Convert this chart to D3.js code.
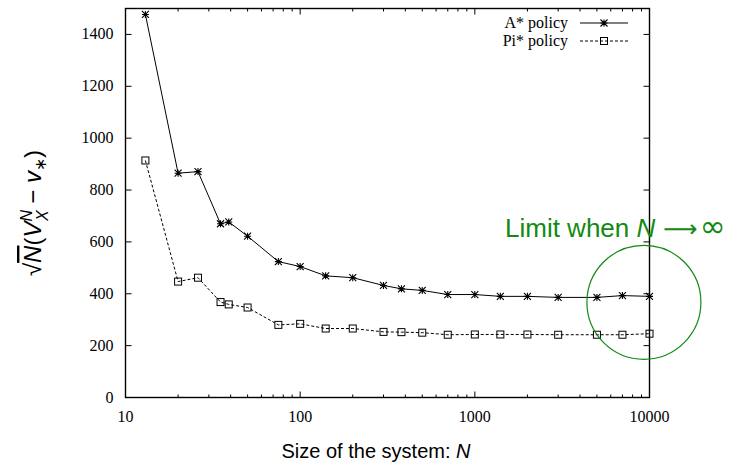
<!DOCTYPE html>
<html>
<head>
<meta charset="utf-8">
<script src="https://cdn.jsdelivr.net/npm/d3@7"></script>
<style>
  body { margin: 0; background: #fff; }
  svg { display: block; }
</style>
</head>
<body>
<svg id="chart" width="746" height="462"></svg>
<script>
const sizes = [13, 20, 26, 35, 39, 50, 75, 100, 140, 200, 300, 380, 500, 700, 1000, 1400, 2000, 3000, 5000, 7000, 10000];
const aStar = [1477, 865, 871, 670, 677, 622, 524, 505, 469, 462, 432, 419, 413, 397, 397, 390, 390, 386, 386, 393, 390];
const piStar = [914, 447, 462, 368, 359, 347, 280, 284, 266, 266, 253, 252, 250, 242, 243, 243, 243, 242, 242, 242, 246];
const yTicks = [0, 200, 400, 600, 800, 1000, 1200, 1400];
const xTicks = [10, 100, 1000, 10000];

const SERIF = "'Liberation Serif', 'Times New Roman', serif";
const SANS = "'Liberation Sans', Arial, sans-serif";

const svg = d3.select("#chart");
const plotL = 125.5, plotR = 649.5, plotT = 8.5, plotB = 397.5;

const x = d3.scaleLog().domain([10, 10000]).range([plotL, plotR]);
const y = d3.scaleLinear().domain([0, 1500]).range([plotB, plotT]);

// minor ticks of the log axis
const minor = [];
for (let d = 10; d < 10000; d *= 10) {
  for (let k = 2; k <= 9; k++) minor.push(d * k);
}

const g = svg.append("g");

// ticks (drawn inward, mirrored on top / right)
g.selectAll(".xmaj").data(xTicks).enter().append("line")
  .attr("x1", d => x(d)).attr("x2", d => x(d)).attr("y1", plotB).attr("y2", plotB - 6)
  .attr("stroke", "#000");
g.selectAll(".xmajt").data(xTicks).enter().append("line")
  .attr("x1", d => x(d)).attr("x2", d => x(d)).attr("y1", plotT).attr("y2", plotT + 6)
  .attr("stroke", "#000");
g.selectAll(".xmin").data(minor).enter().append("line")
  .attr("x1", d => x(d)).attr("x2", d => x(d)).attr("y1", plotB).attr("y2", plotB - 3)
  .attr("stroke", "#000");
g.selectAll(".xmint").data(minor).enter().append("line")
  .attr("x1", d => x(d)).attr("x2", d => x(d)).attr("y1", plotT).attr("y2", plotT + 3)
  .attr("stroke", "#000");
g.selectAll(".ymaj").data(yTicks).enter().append("line")
  .attr("x1", plotL).attr("x2", plotL + 6).attr("y1", d => y(d)).attr("y2", d => y(d))
  .attr("stroke", "#000");
g.selectAll(".ymajr").data(yTicks).enter().append("line")
  .attr("x1", plotR).attr("x2", plotR - 6).attr("y1", d => y(d)).attr("y2", d => y(d))
  .attr("stroke", "#000");

// frame
g.append("rect")
  .attr("x", plotL).attr("y", plotT).attr("width", plotR - plotL).attr("height", plotB - plotT)
  .attr("fill", "none").attr("stroke", "#000").attr("stroke-width", 1.4);

// tick labels
g.selectAll(".ylab").data(yTicks).enter().append("text")
  .attr("font-family", SERIF).attr("font-size", 16)
  .attr("x", plotL - 12).attr("y", d => y(d) + 5)
  .attr("text-anchor", "end")
  .text(d => d);
g.selectAll(".xlab").data(xTicks).enter().append("text")
  .attr("font-family", SERIF).attr("font-size", 16)
  .attr("x", d => x(d)).attr("y", plotB + 24)
  .attr("text-anchor", "middle")
  .text(d => d);

const aData = sizes.map((n, i) => [n, aStar[i]]);
const pData = sizes.map((n, i) => [n, piStar[i]]);
const line = d3.line().x(d => x(d[0])).y(d => y(d[1]));

g.append("path").datum(aData).attr("d", line)
  .attr("fill", "none").attr("stroke", "#000").attr("stroke-width", 1);
g.append("path").datum(pData).attr("d", line)
  .attr("fill", "none").attr("stroke", "#000").attr("stroke-width", 1).attr("stroke-dasharray", "3,2");

function star(sel, cx, cy) {
  const r = 3.5;
  sel.append("path")
    .attr("d", `M${cx - r},${cy}H${cx + r}M${cx},${cy - r}V${cy + r}` +
      `M${cx - r},${cy - r}L${cx + r},${cy + r}M${cx - r},${cy + r}L${cx + r},${cy - r}`)
    .attr("stroke", "#000").attr("stroke-width", 1.1).attr("fill", "none");
}
function square(sel, cx, cy) {
  sel.append("rect").attr("x", cx - 3.5).attr("y", cy - 3.5).attr("width", 7).attr("height", 7)
    .attr("fill", "none").attr("stroke", "#000").attr("stroke-width", 1);
}
aData.forEach(d => star(g, x(d[0]), y(d[1])));
pData.forEach(d => square(g, x(d[0]), y(d[1])));

// legend
g.append("text").attr("font-family", SERIF).attr("font-size", 16).attr("x", 568).attr("y", 28)
  .attr("text-anchor", "end").text("A* policy");
g.append("line").attr("x1", 580).attr("x2", 628).attr("y1", 23).attr("y2", 23)
  .attr("stroke", "#000");
star(g, 604, 23);
g.append("text").attr("font-family", SERIF).attr("font-size", 16).attr("x", 568).attr("y", 46)
  .attr("text-anchor", "end").text("Pi* policy");
g.append("line").attr("x1", 580).attr("x2", 628).attr("y1", 41).attr("y2", 41)
  .attr("stroke", "#000").attr("stroke-dasharray", "3,2");
square(g, 604, 41);

// x axis title
svg.append("text").attr("font-family", SANS)
  .attr("x", 376).attr("y", 458).attr("text-anchor", "middle")
  .attr("font-size", 20)
  .html('Size of the system:  <tspan font-style="italic">N</tspan>');

// y axis title: sqrt(N)(V_X^N - v_*)
const yt = svg.append("text").attr("font-family", SANS)
  .attr("transform", "translate(41,213) rotate(-90)")
  .attr("text-anchor", "middle").attr("font-size", 24);
yt.append("tspan").text("√");
yt.append("tspan").attr("font-style", "italic").attr("text-decoration", "overline").text("N");
yt.append("tspan").text("(");
yt.append("tspan").attr("font-style", "italic").text("V");
yt.append("tspan").attr("font-style", "italic").attr("font-size", 16).attr("dy", -9).text("N");
yt.append("tspan").attr("font-style", "italic").attr("font-size", 16).attr("dx", -11).attr("dy", 16).text("X");
yt.append("tspan").attr("dy", -7).text(" − ");
yt.append("tspan").attr("font-style", "italic").text("v");
yt.append("tspan").attr("font-size", 16).attr("dy", 5).text("∗");
yt.append("tspan").attr("dy", -5).text(")");

// annotation
const green = "#128a12";
svg.append("circle")
  .attr("cx", x(9290)).attr("cy", y(367))
  .attr("r", 57).attr("fill", "none").attr("stroke", green).attr("stroke-width", 1.2);
const lim = svg.append("text").attr("font-family", SANS)
  .attr("x", 505).attr("y", 237).attr("font-size", 26).attr("fill", green);
lim.append("tspan").text("Limit when ");
lim.append("tspan").attr("font-style", "italic").text("N");
lim.append("tspan").attr("font-family", "'DejaVu Sans', sans-serif").attr("font-size", 24)
  .attr("dx", 8).text("⟶");
lim.append("tspan").attr("font-family", "'DejaVu Sans', sans-serif").attr("font-size", 31)
  .attr("dx", 2).text("∞");
</script>
</body>
</html>
